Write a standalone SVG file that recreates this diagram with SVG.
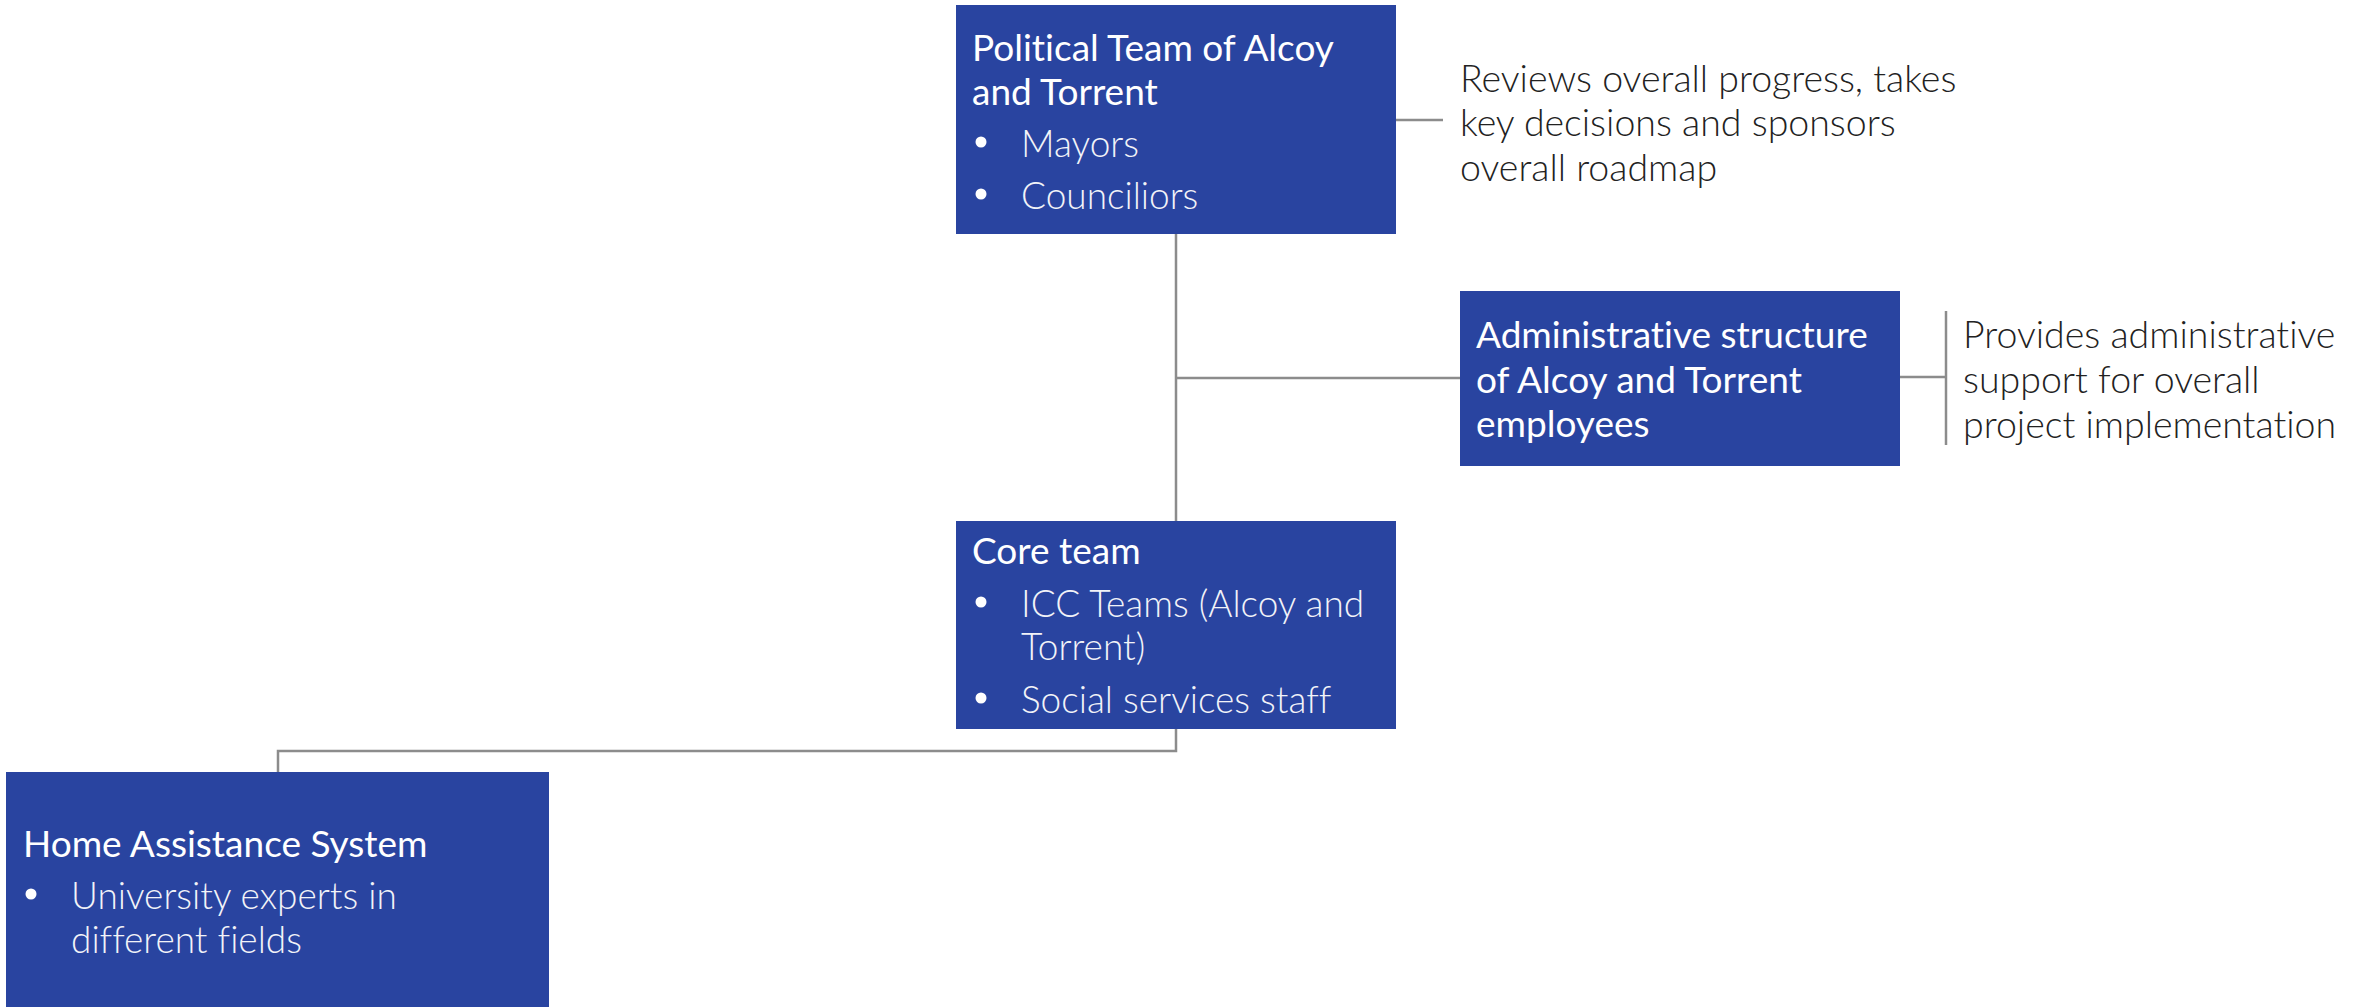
<svg xmlns="http://www.w3.org/2000/svg" width="2371" height="1007" viewBox="0 0 2371 1007">
<style>
text{font-family:Lato,"Open Sans","Liberation Sans",sans-serif;font-variant-ligatures:none;font-feature-settings:"liga" 0,"dlig" 0,"clig" 0}
.box{fill:#2944A0}
.t{font-size:37px;fill:#FFFFFF;font-weight:400}
.b{font-size:37px;fill:#F2F3F8;font-weight:300}
.d{font-size:37.5px;fill:#222222;font-weight:300}
.dot{fill:#FFFFFF}
.c{fill:none;stroke:#8C8C8C;stroke-width:2.5}
</style>
<rect width="2371" height="1007" fill="#FFFFFF"/>
<g id="connectors">
<path class="c" d="M1176 234 V521"/>
<path class="c" d="M1176 378 H1460"/>
<path class="c" d="M1396 120 H1443"/>
<path class="c" d="M1900 377 H1946"/>
<path class="c" d="M1946 311 V445"/>
<path class="c" d="M1176 729 V751 H278 V772"/>
</g>
<g id="political-team">
<rect class="box" x="956" y="5" width="440" height="229"/>
<text class="t" x="972" y="61">Political Team of Alcoy</text>
<text class="t" x="972" y="105">and Torrent</text>
<circle class="dot" cx="981" cy="142" r="5.5"/>
<text class="b" x="1021" y="157">Mayors</text>
<circle class="dot" cx="981" cy="194" r="5.5"/>
<text class="b" x="1021" y="209">Counciliors</text>
</g>
<g id="political-note">
<text class="d" x="1460" y="92">Reviews overall progress, takes</text>
<text class="d" x="1460" y="136">key decisions and sponsors</text>
<text class="d" x="1460" y="181">overall roadmap</text>
</g>
<g id="administrative-structure">
<rect class="box" x="1460" y="291" width="440" height="175"/>
<text class="t" x="1476" y="348">Administrative structure</text>
<text class="t" x="1476" y="393">of Alcoy and Torrent</text>
<text class="t" x="1476" y="437">employees</text>
</g>
<g id="administrative-note">
<text class="d" x="1963" y="348">Provides administrative</text>
<text class="d" x="1963" y="393">support for overall</text>
<text class="d" x="1963" y="438">project implementation</text>
</g>
<g id="core-team">
<rect class="box" x="956" y="521" width="440" height="208"/>
<text class="t" x="972" y="564">Core team</text>
<circle class="dot" cx="981" cy="602" r="5.5"/>
<text class="b" x="1021" y="617">ICC Teams (Alcoy and</text>
<text class="b" x="1021" y="660">Torrent)</text>
<circle class="dot" cx="981" cy="698" r="5.5"/>
<text class="b" x="1021" y="713">Social services staff</text>
</g>
<g id="home-assistance">
<rect class="box" x="6" y="772" width="543" height="240"/>
<text class="t" x="23" y="857">Home Assistance System</text>
<circle class="dot" cx="31" cy="894" r="5.5"/>
<text class="b" x="71" y="909">University experts in</text>
<text class="b" x="71" y="953">different fields</text>
</g>
</svg>
